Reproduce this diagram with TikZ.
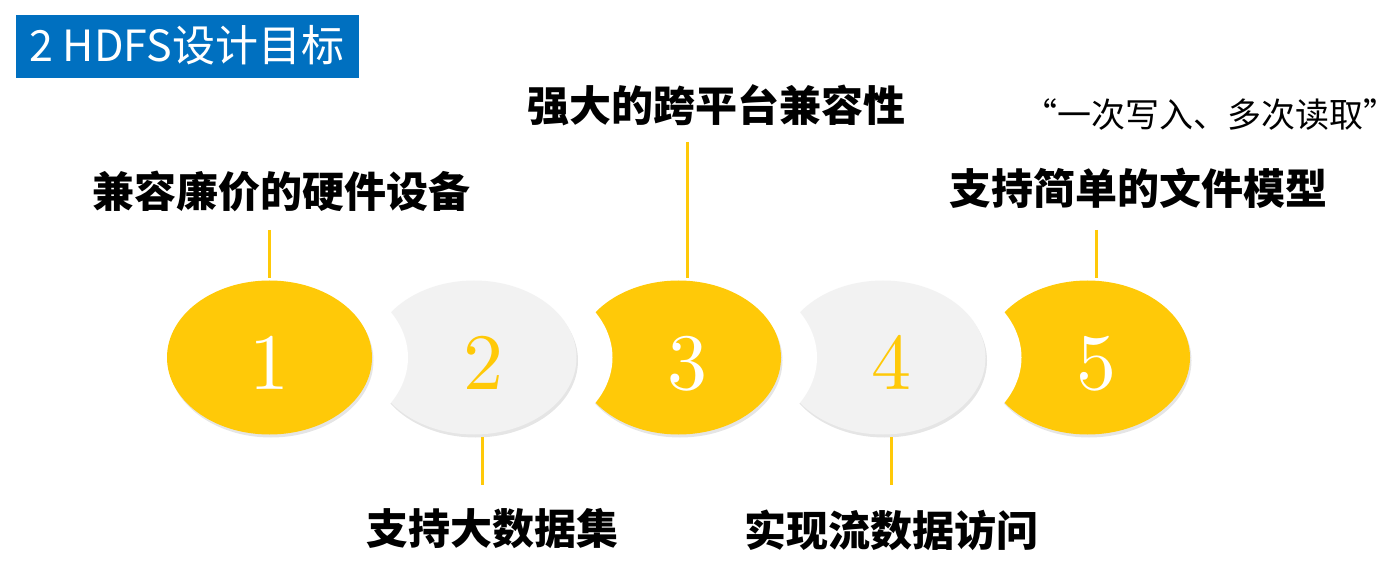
\documentclass[tikz,border=0pt]{standalone}
\usepackage{fontspec}
\newfontfamily\cjk{Noto Sans CJK SC}
\newfontfamily\numfont{lmroman10-regular}[Extension=.otf]
\definecolor{hyellow}{HTML}{FFC908}
\definecolor{hgray}{HTML}{F2F2F2}
\definecolor{hblue}{HTML}{0070C0}
\begin{document}
\begin{tikzpicture}[x=1pt,y=-1pt,
  goal/.style={font=\cjk\bfseries\fontsize{42}{50}\selectfont, inner sep=0pt, anchor=base},
  quote/.style={font=\cjk\fontsize{34}{41}\selectfont, inner sep=0pt, anchor=base},
  titletext/.style={font=\cjk\fontsize{43}{50}\selectfont, text=white, inner sep=0pt, anchor=base west},
  num/.style={font=\numfont\fontsize{80}{90}\selectfont, inner sep=0pt, anchor=base},
  stem/.style={draw=hyellow, line width=3pt},
  shadowc/.style={fill=black, opacity=0.10}]
\useasboundingbox (0,0) rectangle (1400,585);
% title
\fill[hblue] (16,15) rectangle (359,78);
\node[titletext] (title) at (29,62) {2 HDFS设计目标};
% shapes, drawn right to left so each notch is cut by the white halo of its left neighbour
\foreach \k/\cx/\col in {5/1087.5/hyellow, 4/883/hgray, 3/678.5/hyellow, 2/474/hgray, 1/269.5/hyellow} {
  \fill[shadowc] (\cx+1.5,360.5) ellipse [x radius=102.5, y radius=77];
  \fill[\col] (\cx,357.5) ellipse [x radius=102.5, y radius=77];
  \ifnum\k>1
    \fill[white] (\cx-204.5,357.5) ellipse [x radius=138.5, y radius=94];
  \fi
}
% numbers
\node[num, text=white]   (n1) at (269,389)   {1};
\node[num, text=hyellow] (n2) at (483,389)   {2};
\node[num, text=white]   (n3) at (687.5,389) {3};
\node[num, text=hyellow] (n4) at (891.5,389) {4};
\node[num, text=white]   (n5) at (1096,389)  {5};
% labels
\node[goal] (g1) at (281.5,208) {兼容廉价的硬件设备};
\node[goal] (g2) at (492,544)   {支持大数据集};
\node[goal] (g3) at (716.5,122) {强大的跨平台兼容性};
\node[goal] (g4) at (891.5,546) {实现流数据访问};
\node[goal] (g5) at (1138.5,204.5) {支持简单的文件模型};
\node[quote] (q5) at (1210,128) {“一次写入、多次读取”};
% stems
\coordinate (s1a) at (269,230);   \coordinate (s1b) at (269,278);
\coordinate (s2a) at (482,437);   \coordinate (s2b) at (482,485);
\coordinate (s3a) at (687.5,142); \coordinate (s3b) at (687.5,278);
\coordinate (s4a) at (891,437);   \coordinate (s4b) at (891,485);
\coordinate (s5a) at (1096,230);  \coordinate (s5b) at (1096,278);
\draw[stem] (s1a) -- (s1b);
\draw[stem] (s2a) -- (s2b);
\draw[stem] (s3a) -- (s3b);
\draw[stem] (s4a) -- (s4b);
\draw[stem] (s5a) -- (s5b);
\end{tikzpicture}
\end{document}
